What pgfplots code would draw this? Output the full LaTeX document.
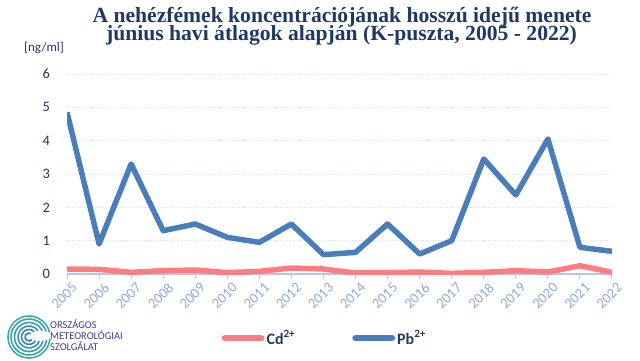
\documentclass[border=0pt]{standalone}
\usepackage{fontspec}
\setmainfont{Carlito}
\newfontfamily\titlefont{Liberation Serif}
\usepackage{pgfplots}
\pgfplotsset{compat=1.18}
\definecolor{navy}{HTML}{1F3864}
\definecolor{pbblue}{HTML}{4A7EBB}
\definecolor{cdred}{HTML}{FF7C80}
\definecolor{gridc}{HTML}{D6DFF0}
\definecolor{xlab}{HTML}{8EAADB}
\definecolor{axc}{HTML}{B4C7E7}
\definecolor{logotext}{HTML}{3F3C8C}
\definecolor{logoA}{HTML}{2E7FB8}
\definecolor{logoB}{HTML}{3DB8A0}
\begin{document}
\begin{tikzpicture}[x=1bp,y=1bp]
\path[use as bounding box] (0,0) rectangle (640,360);
\node[font=\titlefont\bfseries\fontsize{21.7}{21}\selectfont, text=navy, anchor=base, inner sep=0pt] at (342,338) {A nehézfémek koncentrációjának hosszú idejű menete};
\node[font=\titlefont\bfseries\fontsize{21.7}{21}\selectfont, text=navy, anchor=base, inner sep=0pt] at (341.5,320) {június havi átlagok alapján (K-puszta, 2005 - 2022)};
\node[font=\fontsize{13}{15}\selectfont, text=navy, anchor=east, inner sep=0pt] at (64,312) {[ng/ml]};
\begin{axis}[
  at={(67bp,86bp)}, anchor=south west,
  scale only axis, width=545bp, height=200bp,
  xmin=2005, xmax=2022, ymin=0, ymax=6,
  axis x line=bottom, axis y line=left,
  y axis line style={draw=none},
  x axis line style={axc, line width=1.2pt, -},
  xtick={2005,...,2022}, ytick={0,...,6},
  xtick align=outside, major tick length=5bp,
  xtick style={axc, line width=1pt},
  ytick style={draw=none},
  ymajorgrids, grid style={gridc, dotted, line width=1pt},
  /pgf/number format/assume math mode=true,
  /pgf/number format/1000 sep={},
  xticklabel style={rotate=45, anchor=north east, text=xlab, font=\fontsize{14.5}{16}\selectfont, inner sep=1bp, yshift=-4bp, xshift=2bp},
  yticklabel style={text=navy, font=\fontsize{14.5}{17}\selectfont, xshift=-11bp},
  legend columns=2,
  legend style={at={(0.473,-0.32)}, anchor=center, draw=none, fill=none, font=\bfseries\fontsize{16}{18}\selectfont, text=navy, /tikz/every even column/.append style={column sep=55bp}},
  legend image code/.code={\draw[#1, line width=7pt, line cap=round] (0bp,0bp) -- (36bp,0bp);},
]
\addplot[cdred, line width=5.5pt, line join=round] coordinates {
(2005,0.15) (2006,0.14) (2007,0.05) (2008,0.10) (2009,0.12) (2010,0.04)
(2011,0.08) (2012,0.18) (2013,0.15) (2014,0.03) (2015,0.04) (2016,0.06)
(2017,0.02) (2018,0.05) (2019,0.10) (2020,0.06) (2021,0.25) (2022,0.05)};
\addlegendentry{Cd\textsuperscript{2+}}
\addplot[pbblue, line width=5.5pt, line join=round] coordinates {
(2005,4.85) (2006,0.90) (2007,3.30) (2008,1.30) (2009,1.50) (2010,1.10)
(2011,0.95) (2012,1.50) (2013,0.58) (2014,0.65) (2015,1.50) (2016,0.60)
(2017,1.00) (2018,3.45) (2019,2.37) (2020,4.05) (2021,0.80) (2022,0.68)};
\addlegendentry{Pb\textsuperscript{2+}}
\end{axis}
% logo
\foreach \r/\s/\e/\m in {4/60/320/5,7.5/45/330/20,11/35/338/35,14.5/25/345/50,18/18/350/65,21/12/355/80}{
  \draw[logoB!\m!logoA, line width=1.6pt] (29,23) ++(\s:\r) arc[start angle=\s, end angle=\e, radius=\r];
}
\node[anchor=west, font=\fontsize{10.5}{10.8}\selectfont, text=logotext, align=left, inner sep=0pt] at (50,25) {ORSZÁGOS\\METEOROLÓGIAI\\SZOLGÁLAT};
\end{tikzpicture}
\end{document}
